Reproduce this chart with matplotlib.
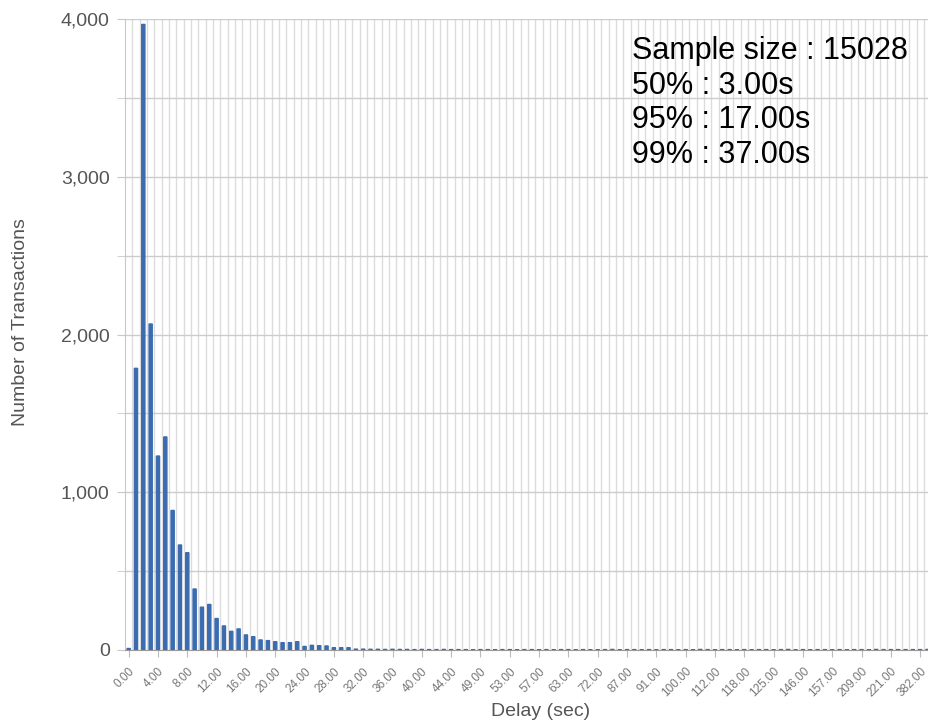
import numpy as np
import matplotlib
matplotlib.use('Agg')
import matplotlib.pyplot as plt
from matplotlib.ticker import MultipleLocator, FuncFormatter

#--------------------------------------------------------------------
# Daten: Verzoegerung (Kategorien) und Anzahl Transaktionen
#--------------------------------------------------------------------
delays = [0, 1, 2, 3, 4, 5, 6, 7, 8, 9, 10, 11, 12, 13, 14, 15, 16, 17, 18, 19,
          20, 21, 22, 23, 24, 25, 26, 27, 28, 29, 30, 31, 32, 33, 34, 35, 36, 37,
          38, 39, 40, 41, 42, 43, 44, 45, 46, 48, 49, 50, 51, 52, 53, 54, 55, 56,
          57, 58, 60, 61, 63, 65, 67, 70, 72, 75, 79, 83, 87, 88, 89, 90, 91, 93,
          96, 98, 100, 103, 106, 109, 112, 113, 115, 117, 118, 120, 122, 124, 125,
          130, 135, 140, 146, 149, 152, 155, 157, 165, 180, 195, 209, 212, 215,
          218, 221, 240, 280, 330, 382, 405]

counts = [10, 1786, 3966, 2067, 1230, 1351, 885, 666, 617, 387, 272, 289, 200,
          153, 119, 134, 96, 85, 64, 60, 53, 47, 47, 53, 23, 30, 28, 26, 15, 15,
          15, 6,
          6, 5, 5, 4, 5, 4, 4, 3, 4, 3,
          3, 4, 3, 3, 3, 2, 3, 3, 2, 3,
          3, 2, 3, 3, 2, 3, 2, 3, 3, 2,
          3, 2, 2, 3, 4, 2, 3, 3, 2, 3,
          2, 3, 3, 2, 3, 2, 4, 3, 2, 3,
          3, 2, 3, 2, 3, 3, 2, 3, 4, 2,
          3, 2, 3, 3, 2, 3, 2, 3, 3, 2,
          4, 3, 3, 3, 3, 3, 3, 4]

stats_lines = ['Sample size : 15028', '50% : 3.00s', '95% : 17.00s', '99% : 37.00s']

BAR_COLOR = '#3b6cb0'
TXT_GRAY = '#555555'

plt.rcParams['font.family'] = ['Liberation Sans', 'DejaVu Sans']

#--------------------------------------------------------------------
# Zeichenfenster
#--------------------------------------------------------------------
fig = plt.figure(figsize=(9.29, 7.24), dpi=100)
ax = fig.add_axes([125 / 929, 74 / 724, 1 - 125 / 929, (650 - 19) / 724])

x = np.arange(len(delays))

# Gitter: senkrecht an jeder Kategoriegrenze, waagrecht alle 500
for xb in x[:-1] + 0.5:
  ax.axvline(xb, color='#dcdcdc', lw=1.0, zorder=0)
for yv in np.arange(500, 4001, 500):
  ax.axhline(yv, color='#cccccc', lw=1.0, zorder=0)

# Balken ueber die x-Achse legen, damit die kleinen Werte sichtbar bleiben
bars = ax.bar(x, counts, width=0.45, color=BAR_COLOR, edgecolor=BAR_COLOR,
              linewidth=0.9, zorder=4)
for b in bars:
  b.set_snap(False)

ax.set_xlim(-0.5, 109.2)
ax.set_ylim(0, 4000)

# Achsen
for s in ['top', 'right']:
  ax.spines[s].set_visible(False)
ax.spines['left'].set_color('#c8c8c8')
ax.spines['bottom'].set_color('#999999')
ax.spines['left'].set_zorder(3)
ax.spines['bottom'].set_zorder(3)

ax.yaxis.set_major_locator(MultipleLocator(1000))
ax.yaxis.set_minor_locator(MultipleLocator(500))
ax.yaxis.set_major_formatter(FuncFormatter(lambda v, p: f'{int(v):,}'))
ax.tick_params(axis='y', which='both', length=6, color='#c8c8c8',
               labelsize=14, labelcolor=TXT_GRAY, pad=5)

tick_idx = x[::4]
ax.set_xticks(tick_idx)
ax.set_xticklabels([f'{delays[i]:.2f}' for i in tick_idx], rotation=45,
                   ha='right', va='top', rotation_mode='anchor')
ax.tick_params(axis='x', length=5, color='#bbbbbb', labelsize=8.5,
               labelcolor='#777777', pad=6)

fig.text(541 / 929, 1 - 712 / 724, 'Delay (sec)', ha='center', va='center',
         fontsize=14, color=TXT_GRAY)
fig.text(21 / 929, 1 - 322 / 724, 'Number of Transactions', rotation=90,
         ha='center', va='center', fontsize=14, color=TXT_GRAY)

# Kennwerte oben rechts
fig.text(632 / 929, 1 - 36 / 724, '\n'.join(stats_lines), ha='left', va='top',
         fontsize=22, color='black', linespacing=1.2)

fig.savefig('out.png', dpi=100, facecolor='white')
